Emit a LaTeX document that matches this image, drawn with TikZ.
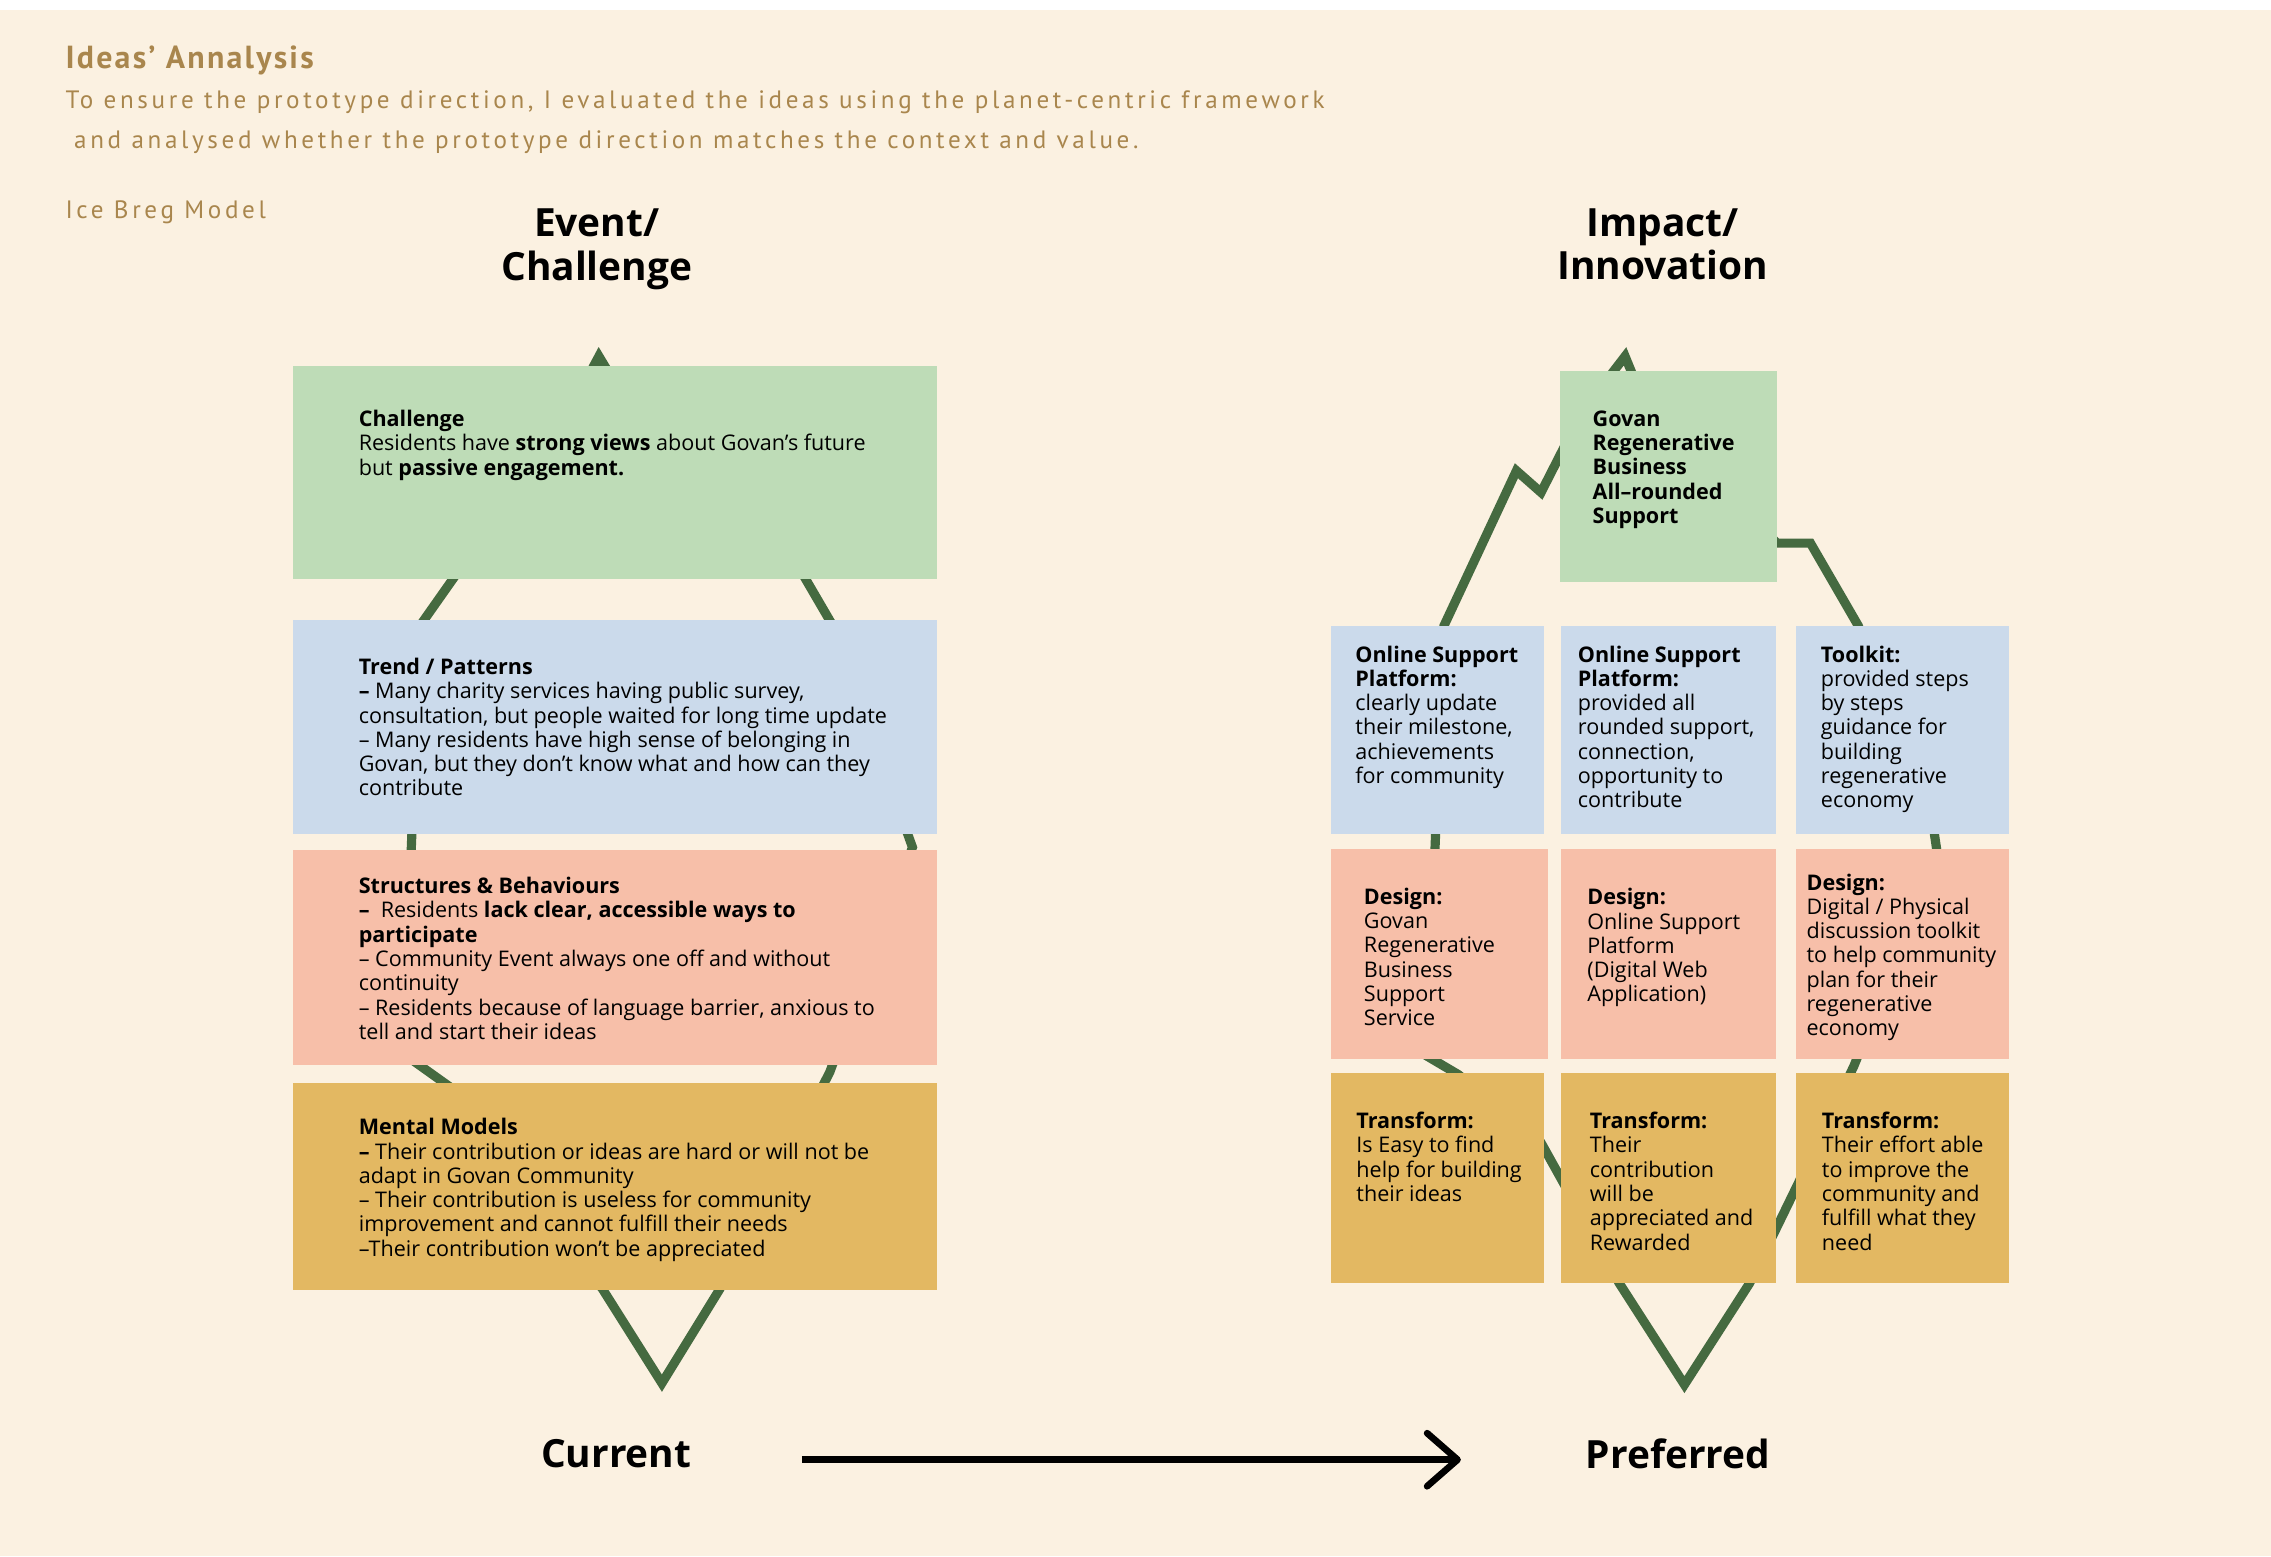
\documentclass[tikz,border=0pt]{standalone}
\usepackage{fontspec}
\setmainfont{Open Sans}
\newfontfamily\titlefont[LetterSpace=7]{PT Sans}
\newfontfamily\notefont[LetterSpace=14.5]{PT Sans}
\usetikzlibrary{arrows.meta}

\definecolor{paper}{HTML}{FBF1E1}
\definecolor{notebrown}{HTML}{A9864D}
\definecolor{iceberg}{HTML}{456A40}
\definecolor{eventgreen}{HTML}{BEDCB7}
\definecolor{trendblue}{HTML}{CBDAEB}
\definecolor{structsalmon}{HTML}{F7BFA9}
\definecolor{mentalgold}{HTML}{E3B862}

\begin{document}
\begin{tikzpicture}[x=0.03cm,y=-0.03cm,
  iceline/.style={draw=iceberg,line width=0.19cm,line join=miter},
  layer/.style={anchor=north west,inner sep=0,outer sep=0},
  boxtext/.style={anchor=north west,inner sep=0,align=left,
    font=\fontsize{12.7pt}{14.3pt}\selectfont},
  heading/.style={inner sep=0,align=center,
    font=\fontsize{22.9pt}{25.6pt}\selectfont\bfseries}]

  % page
  \useasboundingbox (0,0) rectangle (1568,1074.4);
  \fill[white] (0,0) rectangle (1568,7);
  \fill[paper] (0,7) rectangle (1568,1074.4);

  % notes at the top
  \node[anchor=base west,inner sep=0,text=notebrown,
    font=\titlefont\fontsize{18.8pt}{20pt}\selectfont\bfseries] (title) at (45,47.2) {Ideas’ Annalysis};
  \node[anchor=base west,inner sep=0,text=notebrown,align=left,
    font=\notefont\fontsize{14.8pt}{23.6pt}\selectfont] (intro) at (45,102.4)
    {To ensure the prototype direction, I evaluated the ideas using the planet-centric framework\\
     \hspace*{0.18cm}and analysed whether the prototype direction matches the context and value.};
  \node[anchor=base west,inner sep=0,text=notebrown,
    font=\notefont\fontsize{14.8pt}{20pt}\selectfont] (model) at (45,150.7) {Ice Breg Model};

  \node[heading] (event) at (412,172) {Event/\\Challenge};
  \node[heading] (impact) at (1148,168.5) {Impact/\\Innovation};

  % iceberg outlines
  \draw[iceline] (413.5,246) -- (390,290) -- (290,432) -- (284,585) -- (282,730)
    -- (310,750) -- (416,890) -- (457,955) -- (497,890) -- (573,740) -- (630,585)
    -- (575,432) -- (540,372) -- (440,290) -- cycle;
  \draw[iceline] (1122,246) -- (1140,290) -- (1227,375) -- (1250,375) -- (1283,432)
    -- (1335,572) -- (1338,592) -- (1280,736) -- (1244,812) -- (1208,886)
    -- (1163,956) -- (1118,886) -- (1064,789) -- (1007,742) -- (985,729)
    -- (997,432) -- (1047,325) -- (1064,340) -- (1092,285) -- cycle;

  % current: four layers
  \node[layer,fill=eventgreen,minimum width=445*0.03cm,minimum height=147*0.03cm] (challenge) at (202,253) {};
  \node[layer,fill=trendblue,minimum width=445*0.03cm,minimum height=148*0.03cm] (trend) at (202,428) {};
  \node[layer,fill=structsalmon,minimum width=445*0.03cm,minimum height=148*0.03cm] (structures) at (202,587) {};
  \node[layer,fill=mentalgold,minimum width=445*0.03cm,minimum height=143*0.03cm] (mental) at (202,748) {};

  \node[boxtext] (challengetext) at (247.5,283) {\textbf{Challenge}\\
    Residents have \textbf{strong views} about Govan’s future\\
    but \textbf{passive engagement.}};
  \node[boxtext] (trendtext) at (247.5,454.2) {\textbf{Trend / Patterns}\\
    \textbf{–} Many charity services having public survey,\\
    consultation, but people waited for long time update\\
    – Many residents have high sense of belonging in\\
    Govan, but they don’t know what and how can they\\
    contribute};
  \node[boxtext] (structurestext) at (247.5,605.5) {\textbf{Structures \& Behaviours}\\
    \textbf{–}\ \ Residents \textbf{lack clear, accessible ways to}\\
    \textbf{participate}\\
    – Community Event always one off and without\\
    continuity\\
    – Residents because of language barrier, anxious to\\
    tell and start their ideas};
  \node[boxtext] (mentaltext) at (247.5,772) {\textbf{Mental Models}\\
    \textbf{–} Their contribution or ideas are hard or will not be\\
    adapt in Govan Community\\
    – Their contribution is useless for community\\
    improvement and cannot fulfill their needs\\
    –Their contribution won’t be appreciated};

  % preferred: the ideas
  \node[layer,fill=eventgreen,minimum width=150*0.03cm,minimum height=146*0.03cm] (innovation) at (1077,256) {};
  \node[layer,fill=trendblue,minimum width=147*0.03cm,minimum height=144*0.03cm] (platformA) at (919,432) {};
  \node[layer,fill=trendblue,minimum width=148*0.03cm,minimum height=144*0.03cm] (platformB) at (1078,432) {};
  \node[layer,fill=trendblue,minimum width=147*0.03cm,minimum height=144*0.03cm] (toolkit) at (1240,432) {};
  \node[layer,fill=structsalmon,minimum width=150*0.03cm,minimum height=145*0.03cm] (designA) at (919,586) {};
  \node[layer,fill=structsalmon,minimum width=148*0.03cm,minimum height=145*0.03cm] (designB) at (1078,586) {};
  \node[layer,fill=structsalmon,minimum width=147*0.03cm,minimum height=145*0.03cm] (designC) at (1240,586) {};
  \node[layer,fill=mentalgold,minimum width=147*0.03cm,minimum height=145*0.03cm] (transformA) at (919,741) {};
  \node[layer,fill=mentalgold,minimum width=148*0.03cm,minimum height=145*0.03cm] (transformB) at (1078,741) {};
  \node[layer,fill=mentalgold,minimum width=147*0.03cm,minimum height=145*0.03cm] (transformC) at (1240,741) {};

  \node[boxtext,font=\fontsize{12.7pt}{14.3pt}\selectfont\bfseries] (innovationtext) at (1099.4,283.4)
    {Govan\\Regenerative\\Business\\All–rounded\\Support};
  \node[boxtext] (platformAtext) at (935.6,445.6) {\textbf{Online Support}\\\textbf{Platform:}\\
    clearly update\\their milestone,\\achievements\\for community};
  \node[boxtext] (platformBtext) at (1089.2,445.6) {\textbf{Online Support}\\\textbf{Platform:}\\
    provided all\\rounded support,\\connection,\\opportunity to\\contribute};
  \node[boxtext] (toolkittext) at (1257,445.6) {\textbf{Toolkit:}\\
    provided steps\\by steps\\guidance for\\building\\regenerative\\economy};
  \node[boxtext] (designAtext) at (941.5,612.9) {\textbf{Design:}\\
    Govan\\Regenerative\\Business\\Support\\Service};
  \node[boxtext] (designBtext) at (1095.8,613.2) {\textbf{Design:}\\
    Online Support\\Platform\\(Digital Web\\Application)};
  \node[boxtext] (designCtext) at (1247.1,603) {\textbf{Design:}\\
    Digital / Physical\\discussion toolkit\\to help community\\plan for their\\regenerative\\economy};
  \node[boxtext] (transformAtext) at (936.3,767.7) {\textbf{Transform:}\\
    Is Easy to find\\help for building\\their ideas};
  \node[boxtext] (transformBtext) at (1097.5,767.7) {\textbf{Transform:}\\
    Their\\contribution\\will be\\appreciated and\\Rewarded};
  \node[boxtext] (transformCtext) at (1257.7,767.7) {\textbf{Transform:}\\
    Their effort able\\to improve the\\community and\\fulfill what they\\need};

  % current -> preferred
  \node[heading] (current) at (425.5,1003.5) {Current};
  \node[heading] (preferred) at (1158.5,1003.5) {Preferred};
  \draw[line width=0.138cm,-{Straight Barb[length=0.63cm,width=1.1cm,round]},
    shorten <=2.28cm,shorten >=2.58cm]
    ([yshift=-0.13cm]current.east) -- ([yshift=-0.13cm]preferred.west);
\end{tikzpicture}
\end{document}
